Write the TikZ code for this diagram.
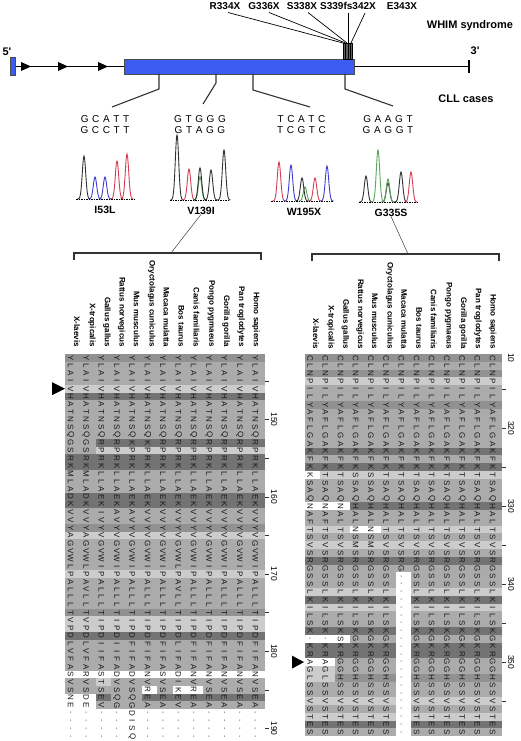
\documentclass[tikz,border=0pt]{standalone}
\usepackage{fontspec}
\setmainfont{Liberation Sans}
\definecolor{geneblue}{RGB}{58,92,240}
\definecolor{shd}{gray}{0.45}
\definecolor{shk}{gray}{0.57}
\definecolor{shm}{gray}{0.67}
\definecolor{shl}{gray}{0.8}
\definecolor{shw}{gray}{1}
\definecolor{pkk}{RGB}{50,50,50}
\definecolor{pkb}{RGB}{60,60,210}
\definecolor{pkr}{RGB}{215,60,80}
\definecolor{pkg}{RGB}{90,165,90}
\newcount\alrow
\def\colchars#1{%
  \ifx#1\relax\else
    \global\advance\alrow by 1
    \node[res] at ({\alx},{\aly+(\the\alrow-0.5)*\alh}) {#1};
    \expandafter\colchars
  \fi}
\def\shchars#1{%
  \ifx#1\relax\else
    \global\advance\alrow by 1
    \fill[sh#1] ({\alxa},{\aly+(\the\alrow-1)*\alh}) rectangle ({\alxb},{\aly+\the\alrow*\alh});
    \expandafter\shchars
  \fi}
\newcommand\Lcol[2]{\global\alrow=0 \def\alx{65+(#1-0.5)*15.38-2}\def\aly{354}\def\alh{7.72}\colchars#2\relax}
\newcommand\Rcol[2]{\global\alrow=0 \def\alx{304.5+(#1-0.5)*15.2-2}\def\aly{354}\def\alh{7.8}\colchars#2\relax}
\newcommand\Lshade[1]{\global\alrow=0 \def\alxa{65}\def\alxb{265}\def\aly{354}\def\alh{7.72}\shchars#1\relax}
\newcommand\Rshade[1]{\global\alrow=0 \def\alxa{304.5}\def\alxb{502.1}\def\aly{354}\def\alh{7.8}\shchars#1\relax}
\newcommand\Lcell[3]{\fill[#3] ({65+(#1-1)*15.38},{354+(#2-1)*7.72}) rectangle ({65+#1*15.38},{354+#2*7.72});}
\newcommand\Rcell[3]{\fill[#3] ({304.5+(#1-1)*15.2},{354+(#2-1)*7.8}) rectangle ({304.5+#1*15.2},{354+#2*7.8});}
\newcommand\sq[5]{#1\kern3.6pt#2\kern3.6pt#3\kern3.6pt#4\kern3.6pt#5}
\newcommand\pk[4]{\pgfmathsetmacro\pka{#2-6.5}\pgfmathsetmacro\pkb{#2+6.5}%
  \draw[#1,line width=0.9pt] plot[domain=\pka:\pkb,samples=27,smooth] (\x,{#3-(#3-#4)*exp(-((\x-#2)/2.4)*((\x-#2)/2.4))});}
\begin{document}
\begin{tikzpicture}[x=1pt,y=-1pt,
  res/.style={font=\fontsize{8}{8}\selectfont, rotate=-90, inner sep=0pt, text=black!90},
  spec/.style={font=\bfseries\fontsize{8}{8}\selectfont, rotate=-90, anchor=east, inner sep=0pt},
  rul/.style={font=\fontsize{8.5}{8.5}\selectfont, rotate=-90, inner sep=0pt},
  mut/.style={font=\bfseries\fontsize{10}{10}\selectfont, anchor=base, inner sep=0pt},
  lab/.style={font=\bfseries\fontsize{11}{11}\selectfont, inner sep=0pt},
  clab/.style={font=\bfseries\fontsize{10.5}{10.5}\selectfont, inner sep=0pt},
  seqt/.style={font=\fontsize{10}{10}\selectfont, anchor=base, inner sep=0pt},
  conn/.style={line width=1.1pt, black!80},
  fine/.style={line width=0.7pt, black},
  tickln/.style={line width=0.6pt, black!80},
  brk/.style={line width=1.2pt, black!80},
  base/.style={line width=0.9pt, dash pattern=on 1.5pt off 1pt},
  ]
\useasboundingbox (0,0) rectangle (520,741);
\fill[white] (0,0) rectangle (520,741);
% ---------- gene ----------
\draw[line width=1.3pt] (15,66.5) -- (124,66.5);
\draw[line width=1.3pt] (354,66.5) -- (469,66.5);
\draw[line width=1.3pt] (469,60) -- (469,73);
\fill[geneblue, draw=black!70, line width=0.5pt] (10,57.5) rectangle (15,75.5);
\foreach \t in {31,68,108} \fill (\t,66.5) -- ++(-10,-4.5) -- ++(0,9) -- cycle;
\fill[geneblue, draw=black!70, line width=0.6pt] (124,59) rectangle (354,74);
\fill[black!62, draw=black, line width=0.4pt] (343,43) rectangle (352,59);
\foreach \t in {345.5,348,350} \draw[line width=0.4pt] (\t,43) -- (\t,59);
\node[lab] (p5) at (7,52) {5\textquotesingle};
\node[lab] (p3) at (475,51) {3\textquotesingle};
% mutations WHIM
\node[mut] (m1) at (225,9.5) {R334X};
\node[mut] (m2) at (264,9.5) {G336X};
\node[mut] (m3) at (302,9.5) {S338X};
\node[mut] (m4) at (348,9.5) {S339fs342X};
\node[mut] (m5) at (402,9.5) {E343X};
\coordinate (t1) at (228,12.5); \coordinate (t2) at (269,12.5); \coordinate (t3) at (308,12.5);
\coordinate (t4) at (348,13.5); \coordinate (t5) at (365,13);
\coordinate (b1) at (343,43); \coordinate (b2) at (345.5,43); \coordinate (b3) at (347,43);
\coordinate (b4) at (348,43); \coordinate (b5) at (351,43);
\foreach \i in {1,...,5} \draw[fine] (t\i) -- (b\i);
\node[lab] (whim) at (470,26) {WHIM syndrome};
\node[lab] (cll) at (466,99) {CLL cases};
% CLL connectors
\draw[conn] (159,74) -- (159,89) -- (112,107);
\draw[conn] (216,74) -- (216,83) -- (203,104);
\draw[conn] (253,74) -- (253,90) -- (310,107);
\draw[conn] (345,74) -- (345,89) -- (393,106);
% sequences
\node[seqt] (s1a) at (105,122.5) {\sq GCATT};
\node[seqt] (s1b) at (105,133.5) {\sq GCCTT};
\node[seqt] (s2a) at (200,122.5) {\sq GTGGG};
\node[seqt] (s2b) at (200,133.5) {\sq GTAGG};
\node[seqt] (s3a) at (301.5,122.5) {\sq TCATC};
\node[seqt] (s3b) at (301.5,133.5) {\sq TCGTC};
\node[seqt] (s4a) at (388,122.5) {\sq GAAGT};
\node[seqt] (s4b) at (388,133.5) {\sq GAGGT};
% chromatograms
\pk{pkk}{84}{199}{156}\pk{pkb}{95}{199}{177}\pk{pkb}{105}{199}{177}\pk{pkr}{117}{199}{161}\pk{pkr}{127}{199}{154}
\draw[base] (76,199) -- (134,199);
\pk{pkk}{177}{200}{135}\pk{pkr}{189}{200}{169}\pk{pkg}{200}{200}{177}\pk{pkk}{200}{200}{168}\pk{pkk}{211}{200}{170}\pk{pkk}{224}{200}{150}
\draw[base] (170,200) -- (230,200);
\pk{pkr}{279}{201}{162}\pk{pkb}{291}{201}{165}\pk{pkg}{305}{201}{187}\pk{pkk}{302}{201}{178}\pk{pkr}{315}{201}{178}\pk{pkb}{327}{201}{166}
\draw[base] (271,201) -- (333,201);
\pk{pkk}{366}{202}{176}\pk{pkg}{378}{202}{150}\pk{pkk}{388}{202}{183}\pk{pkg}{388}{202}{179}\pk{pkk}{401}{202}{172}\pk{pkr}{411}{202}{172}
\draw[base] (359,202) -- (417,202);
\node[clab] (c1) at (105,209.5) {I53L};
\node[clab] (c2) at (201,210.5) {V139I};
\node[clab] (c3) at (304,211.5) {W195X};
\node[clab] (c4) at (391,212.5) {G335S};
% brackets
\draw[brk] (74,260) -- (74,253) -- (261,253) -- (261,260);
\draw[brk] (312,261) -- (312,254) -- (499,254) -- (499,261);
\coordinate (k1) at (171,253); \coordinate (k2) at (408,254);
\draw[line width=0.5pt, black!75] (c2.south) -- (k1);
\draw[line width=0.5pt, black!75] (c4.south) -- (k2);
% species labels
\foreach \s [count=\i] in {X-laevis,X-tropicalis,Gallus gallus,Rattus norvegicus,Mus musculus,Oryctolagus cuniculus,Macaca mulatta,Bos taurus,Canis familiaris,Pongo pygmaeus,Gorilla gorilla,Pan troglodytes,Homo sapiens}{
  \node[spec] (ls\i) at ({77+(\i-1)*14.92},347) {\s};
  \node[spec] (rs\i) at ({316+(\i-1)*14.72},349) {\s};
}
% ---------- left alignment ----------
\Lshade{kmmmldmmmmmdlddmmmddmmklmmmmlmmmmklldmmmmwmmdmwwww}
\Lcell{1}{12}{shm}\Lcell{2}{12}{shm}\Lcell{1}{13}{shm}\Lcell{2}{13}{shm}
\Lcell{3}{43}{shl}
\Lcell{6}{44}{shw}\Lcell{8}{44}{shw}\Lcell{9}{44}{shw}
\Lcell{1}{45}{shw}\Lcell{2}{45}{shw}\Lcell{4}{45}{shm}\Lcell{5}{45}{shm}
\Lcell{1}{46}{shw}\Lcell{2}{46}{shw}
\Lcol{1}{YLAIVHATNSQGSRKMLADKVVYAGVWLPALLLTVPDLVFASVSNE....}
\Lcol{2}{YLAIVHATNSQGSRKMLADKVVYAGVWLPAVLLTVPDLVFARVSDE....}
\Lcol{3}{YLAIVHATNSQRPRKLLAEKIVYVGVWIPALLLTIPDIIFASTSEV....}
\Lcol{4}{YLAIVHATNSQRPRKLLAEKAVYVGVWIPALLLTIPDIIFADVSQG....}
\Lcol{5}{YLAIVHATNSQKPRKLLAEKAVYVGVWIPALLLTIPDFIFADVSQGDISQ}
\Lcol{6}{YLAIVHATNSQKPRKLLAEKVVYVGVWIPALLLTIPDFIFANVREA....}
\Lcol{7}{YLAIVHATNSQRPRKLLAEKVVYVGVWIPALLLTIPDFIFASVSEA....}
\Lcol{8}{YLAIVHATNSQRPRKLLAEKVVYVGVWLPAVLLTIPDLIFADIKEV....}
\Lcol{9}{YLAIVHATNSQRPRKLLAEKVVYVGVWIPALLLTIPDFIFANVREA....}
\foreach \c in {10,11,12,13}{\Lcol{\c}{YLAIVHATNSQRPRKLLAEKVVYVGVWIPALLLTIPDFIFANVSEA....}}
\foreach \r in {4,9,...,49} \draw[tickln] (265,{354+(\r-0.5)*7.72}) -- ++(4,0);
\foreach \r/\n in {9/150,19/160,29/170,39/180,49/190} \node[rul] (lr\n) at (274,{354+(\r-0.5)*7.72}) {\n};
\fill (65,388.7) -- ++(-13,-6.5) -- ++(0,13) -- cycle;
% ---------- right alignment ----------
\Rshade{kmklmmkmmmmmdmdlmmmdmmlmlmdmmmldlmmdmddmmkmmlmldm}
\Rcell{1}{16}{shw}
\Rcell{1}{20}{shw}\Rcell{2}{20}{shw}\Rcell{3}{20}{shw}
\Rcell{4}{23}{shw}\Rcell{5}{23}{shw}
\Rcell{1}{37}{shw}\Rcell{2}{37}{shw}\Rcell{3}{37}{shw}
\Rcell{1}{40}{shw}\Rcell{2}{40}{shw}
\Rcell{1}{41}{shl}\Rcell{2}{41}{shl}\Rcell{1}{42}{shl}\Rcell{2}{42}{shl}
\fill[white] ({304.5+6*15.2},{354+28*7.8}) rectangle ({304.5+7*15.2},{354+49*7.8});
\Rcol{1}{CLNPILYAFLGAKFKKSAQNAFTSVSRGSSLKILSK.KRAGLSSVSTES}
\Rcol{2}{CLNPILYAFLGAKFKTSAQNAFTSVSRGSSLKILSK.KRAGLSSVSTES}
\Rcol{3}{CLNPILYAFLGAKFKTSAQNALTSVSRGSSLKILSKSKRGGHSSVSTES}
\Rcol{4}{CLNPILYAFLGAKFKSSAQHALNSMSRGSSLKILSKGKRGGHSSVSTES}
\Rcol{5}{CLNPILYAFLGAKFKSSAQHALNSMSRGSSLKILSKGKRGGHSSVSTES}
\Rcol{6}{CLNPILYAFLGAKFKTSAQHALTSVSRGSSLKILSKGKRGGHSSVSTES}
\Rcol{7}{CLNPILYAFLGAKFKTSAQHALTSVSRG.....................}
\foreach \c in {8,...,13}{\Rcol{\c}{CLNPILYAFLGAKFKTSAQHALTSVSRGSSLKILSKGKRGGHSSVSTES}}
\foreach \r in {5,10,...,45} \draw[tickln] (502,{354+(\r-0.5)*7.8}) -- ++(4,0);
\foreach \r/\n in {1/10,10/320,20/330,30/340,40/350} \node[rul] (rr\n) at (511,{354+(\r-0.5)*7.8}) {\n};
\fill (304,662.1) -- ++(-12,-6.5) -- ++(0,13) -- cycle;
\end{tikzpicture}
\end{document}
